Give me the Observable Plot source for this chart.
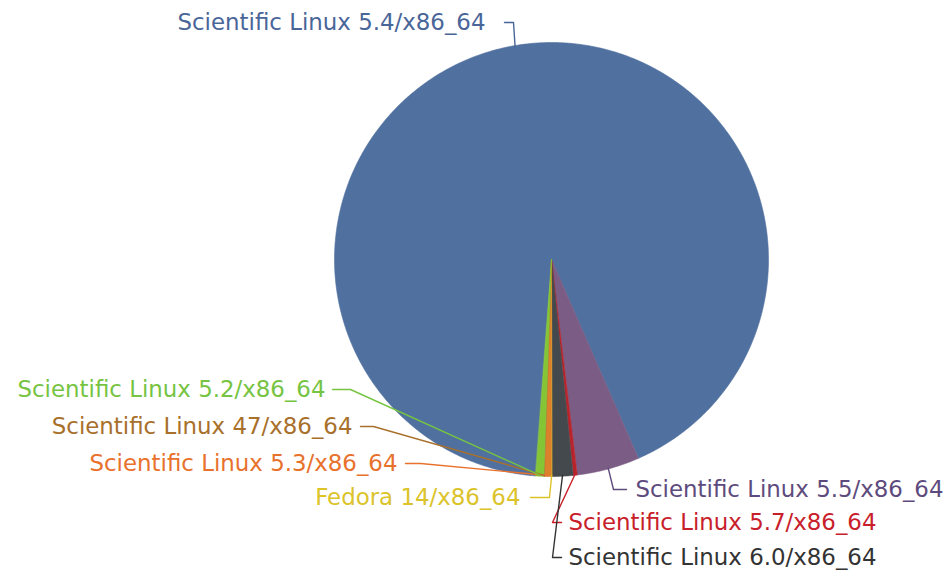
<!DOCTYPE html>
<html><head><meta charset="utf-8">
<script src="https://cdn.jsdelivr.net/npm/d3@7"></script>
<script src="https://cdn.jsdelivr.net/npm/@observablehq/plot@0.6"></script>
<style>html,body{margin:0;padding:0;background:#fff}</style>
</head><body><div id="chart"></div>
<script>
// ---- data ----
const categories = [
  "Scientific Linux 5.4/x86_64",
  "Scientific Linux 5.5/x86_64",
  "Scientific Linux 5.7/x86_64",
  "Scientific Linux 6.0/x86_64",
  "Fedora 14/x86_64",
  "Scientific Linux 5.3/x86_64",
  "Scientific Linux 47/x86_64",
  "Scientific Linux 5.2/x86_64"
];
const values = [1840, 93, 6, 31, 1, 10, 1, 12];

// ---- styles ----
const sliceColors = ["#50709f","#7b5c85","#b8242c","#44494d","#ebd22e","#db812c","#a8742e","#84c536"];
const labelColors = ["#4a6699","#5e4b7d","#c8202a","#333333","#dcc32a","#e8712c","#a8702b","#76c442"];

// ---- layout ----
const W = 944, H = 575;
const cx = 551, cy = 259, R = 217;
const startDeg = 184.2;
const labelLayout = [
  {x:485, y:22,  anchor:"end",   leader:[[504,22],[513,22]]},
  {x:635, y:489, anchor:"start", leader:[[626,489],[613,489]]},
  {x:568, y:522, anchor:"start", leader:[[561,522],[552,522]]},
  {x:568, y:557, anchor:"start", leader:[[561,557],[552,557]]},
  {x:520, y:497, anchor:"end",   leader:[[530,497],[549,497]]},
  {x:397, y:463, anchor:"end",   leader:[[405,463],[420,463]]},
  {x:352, y:426, anchor:"end",   leader:[[360,426],[373,426]]},
  {x:325, y:389, anchor:"end",   leader:[[332,389],[350,389]]}
];

const rows = categories.map((c, i) => ({category: c, value: values[i], i}));
const start = startDeg * Math.PI / 180;
const arcs = d3.pie().sort(null).value(d => d.value).startAngle(start).endAngle(start + 2 * Math.PI)(rows);

const pt = (a, r) => [cx + r * Math.sin(a), cy - r * Math.cos(a)];

// slice polygons
const slicePts = [];
arcs.forEach(a => {
  const k = a.data.i;
  slicePts.push({x: cx, y: cy, k});
  const n = Math.max(2, Math.ceil((a.endAngle - a.startAngle) / (Math.PI / 360)));
  for (let j = 0; j <= n; j++) {
    const ang = a.startAngle + (a.endAngle - a.startAngle) * j / n;
    const [x, y] = pt(ang, R);
    slicePts.push({x, y, k});
  }
});

// leader lines
const leaderPts = [];
arcs.forEach(a => {
  const k = a.data.i;
  const L = labelLayout[k];
  const mid = (a.startAngle + a.endAngle) / 2;
  L.leader.forEach(([x, y]) => leaderPts.push({x, y, k}));
  const [rx, ry] = pt(mid, R - 1);
  leaderPts.push({x: rx, y: ry, k});
});

const labels = rows.map(d => ({...d, x: labelLayout[d.i].x, y: labelLayout[d.i].y, anchor: labelLayout[d.i].anchor}));

const chart = Plot.plot({
  width: W, height: H,
  margin: 0,
  x: {domain: [0, W], range: [0, W], axis: null},
  y: {domain: [0, H], range: [0, H], axis: null},
  style: {fontFamily: "'DejaVu Sans', Verdana, sans-serif", background: "#fff"},
  marks: [
    Plot.line(slicePts, {x: "x", y: "y", z: "k", curve: "linear-closed",
      fill: d => sliceColors[d.k], stroke: d => sliceColors[d.k], strokeWidth: 0.6}),
    Plot.line(leaderPts, {x: "x", y: "y", z: "k", stroke: d => labelColors[d.k], strokeWidth: 1.4}),
    Plot.text(labels.filter(d => d.anchor === "end"), {x: "x", y: "y", text: "category",
      fill: d => labelColors[d.i], textAnchor: "end", fontSize: 22.9}),
    Plot.text(labels.filter(d => d.anchor === "start"), {x: "x", y: "y", text: "category",
      fill: d => labelColors[d.i], textAnchor: "start", fontSize: 22.9})
  ]
});
document.getElementById("chart").appendChild(chart);
</script>
</body></html>
